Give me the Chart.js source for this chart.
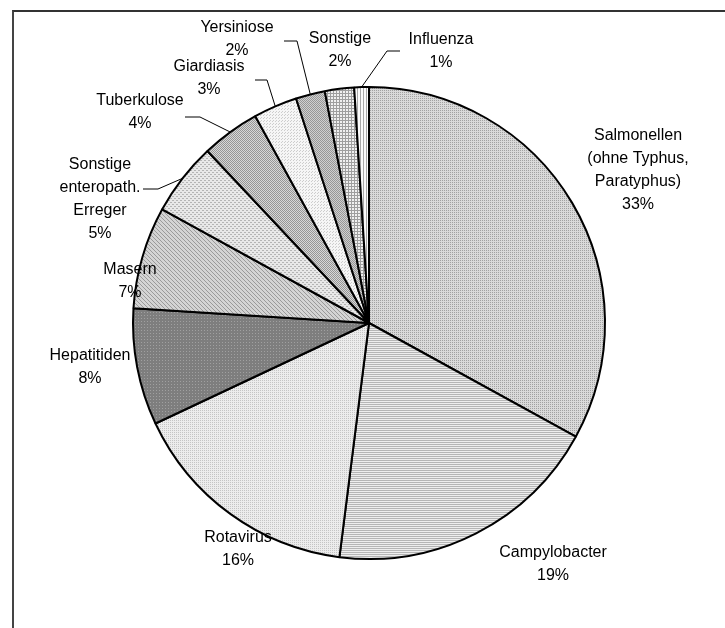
<!DOCTYPE html>
<html lang="de">
<head>
<meta charset="UTF-8">
<title>Infektionskrankheiten – Anteile</title>
<script src="https://cdn.jsdelivr.net/npm/chart.js"></script>
<style>
  html, body { margin: 0; padding: 0; background: #fff; }
  #wrap { position: relative; width: 725px; height: 628px; overflow: hidden; }
  #frame { position: absolute; left: 12px; top: 10px; width: 760px; height: 700px;
           border-top: 2px solid #333; border-left: 2px solid #444; }
  #pie { position: absolute; left: 0; top: 0; }
</style>
</head>
<body>
<div id="wrap">
  <div id="frame"></div>
  <canvas id="pie" width="725" height="628"></canvas>
</div>
<script>
// slice names (multi-line where the label wraps) and their shares in percent
const categories = [
  ['Salmonellen', '(ohne Typhus,', 'Paratyphus)'],
  ['Campylobacter'],
  ['Rotavirus'],
  ['Hepatitiden'],
  ['Masern'],
  ['Sonstige', 'enteropath.', 'Erreger'],
  ['Tuberkulose'],
  ['Giardiasis'],
  ['Yersiniose'],
  ['Sonstige'],
  ['Influenza']
];
const shares = [33, 19, 16, 8, 7, 5, 4, 3, 2, 2, 1];

// where each label block sits (first line centre) and optional leader line
const labelSpots = [
  { x: 638, y: 136 },
  { x: 553, y: 553 },
  { x: 238, y: 538 },
  { x: 90, y: 356 },
  { x: 130, y: 270 },
  { x: 100, y: 165, lead: [143, 189, 158] },
  { x: 140, y: 101, lead: [185, 117, 200] },
  { x: 209, y: 67, lead: [255, 80, 267] },
  { x: 237, y: 28, lead: [284, 41, 297] },
  { x: 340, y: 39 },
  { x: 441, y: 40, lead: [400, 51, 387] }
];

// small bitmap tiles used as fill patterns
function tile(size, bg, fg, cells) {
  const c = document.createElement('canvas');
  c.width = size; c.height = size;
  const g = c.getContext('2d');
  g.fillStyle = bg;
  g.fillRect(0, 0, size, size);
  g.fillStyle = fg;
  cells.forEach(([x, y]) => g.fillRect(x, y, 1, 1));
  return g.createPattern(c, 'repeat');
}

const fills = [
  tile(2, '#dadada', '#a2a2a2', [[0, 0]]),                                  // dotted
  tile(2, '#eeeeee', '#b6b6b6', [[0, 0], [1, 0]]),                          // horizontal lines
  tile(2, '#ececec', '#c4c4c4', [[0, 0]]),                                  // fine dots
  tile(3, '#7e7e7e', '#a0a0a0', [[0, 0]]),                                  // dark dotted
  tile(4, '#d4d4d4', '#9a9a9a', [[0, 0], [1, 1], [2, 2], [3, 3]]),          // diagonal
  tile(4, '#e8e8e8', '#b4b4b4', [[0, 0], [1, 0], [2, 2], [3, 2]]),          // dashes
  tile(2, '#d8d8d8', '#969696', [[0, 0], [1, 1]]),                          // checker
  tile(3, '#f6f6f6', '#cdcdcd', [[0, 0], [2, 1]]),                          // sparse dots
  tile(2, '#d0d0d0', '#979797', [[0, 0], [1, 1]]),                          // dense grey
  tile(3, '#f0f0f0', '#9e9e9e', [[0, 0], [1, 0], [2, 0], [0, 1], [0, 2]]), // grid
  tile(3, '#fafafa', '#a8a8a8', [[0, 0], [0, 1], [0, 2]])                   // vertical lines
];

const pieLabels = {
  id: 'pieLabels',
  afterDraw(chart) {
    const ctx = chart.ctx;
    const arcs = chart.getDatasetMeta(0).data;
    ctx.save();
    ctx.font = '16px "Liberation Sans", Arial, sans-serif';
    ctx.fillStyle = '#000';
    ctx.textAlign = 'center';
    ctx.textBaseline = 'middle';
    arcs.forEach((arc, i) => {
      const spot = labelSpots[i];
      const lines = categories[i].concat([shares[i] + '%']);
      lines.forEach((t, k) => ctx.fillText(t, spot.x, spot.y + k * 23));
      if (spot.lead) {
        const mid = (arc.startAngle + arc.endAngle) / 2;
        const ex = arc.x + arc.outerRadius * Math.cos(mid);
        const ey = arc.y + arc.outerRadius * Math.sin(mid);
        const [sx, sy, bx] = spot.lead;
        ctx.strokeStyle = '#000';
        ctx.lineWidth = 1;
        ctx.beginPath();
        ctx.moveTo(sx, sy);
        ctx.lineTo(bx, sy);
        ctx.lineTo(ex, ey);
        ctx.stroke();
      }
    });
    ctx.restore();
  }
};

new Chart(document.getElementById('pie'), {
  type: 'pie',
  data: {
    labels: categories.map(c => c.join(' ')),
    datasets: [{
      data: shares,
      backgroundColor: fills,
      borderColor: '#000',
      borderWidth: 2,
      hoverOffset: 0
    }]
  },
  options: {
    responsive: false,
    animation: false,
    layout: { padding: { left: 132, top: 86, right: 119, bottom: 68 } },
    plugins: {
      legend: { display: false },
      tooltip: { enabled: false }
    }
  },
  plugins: [pieLabels]
});
</script>
</body>
</html>
